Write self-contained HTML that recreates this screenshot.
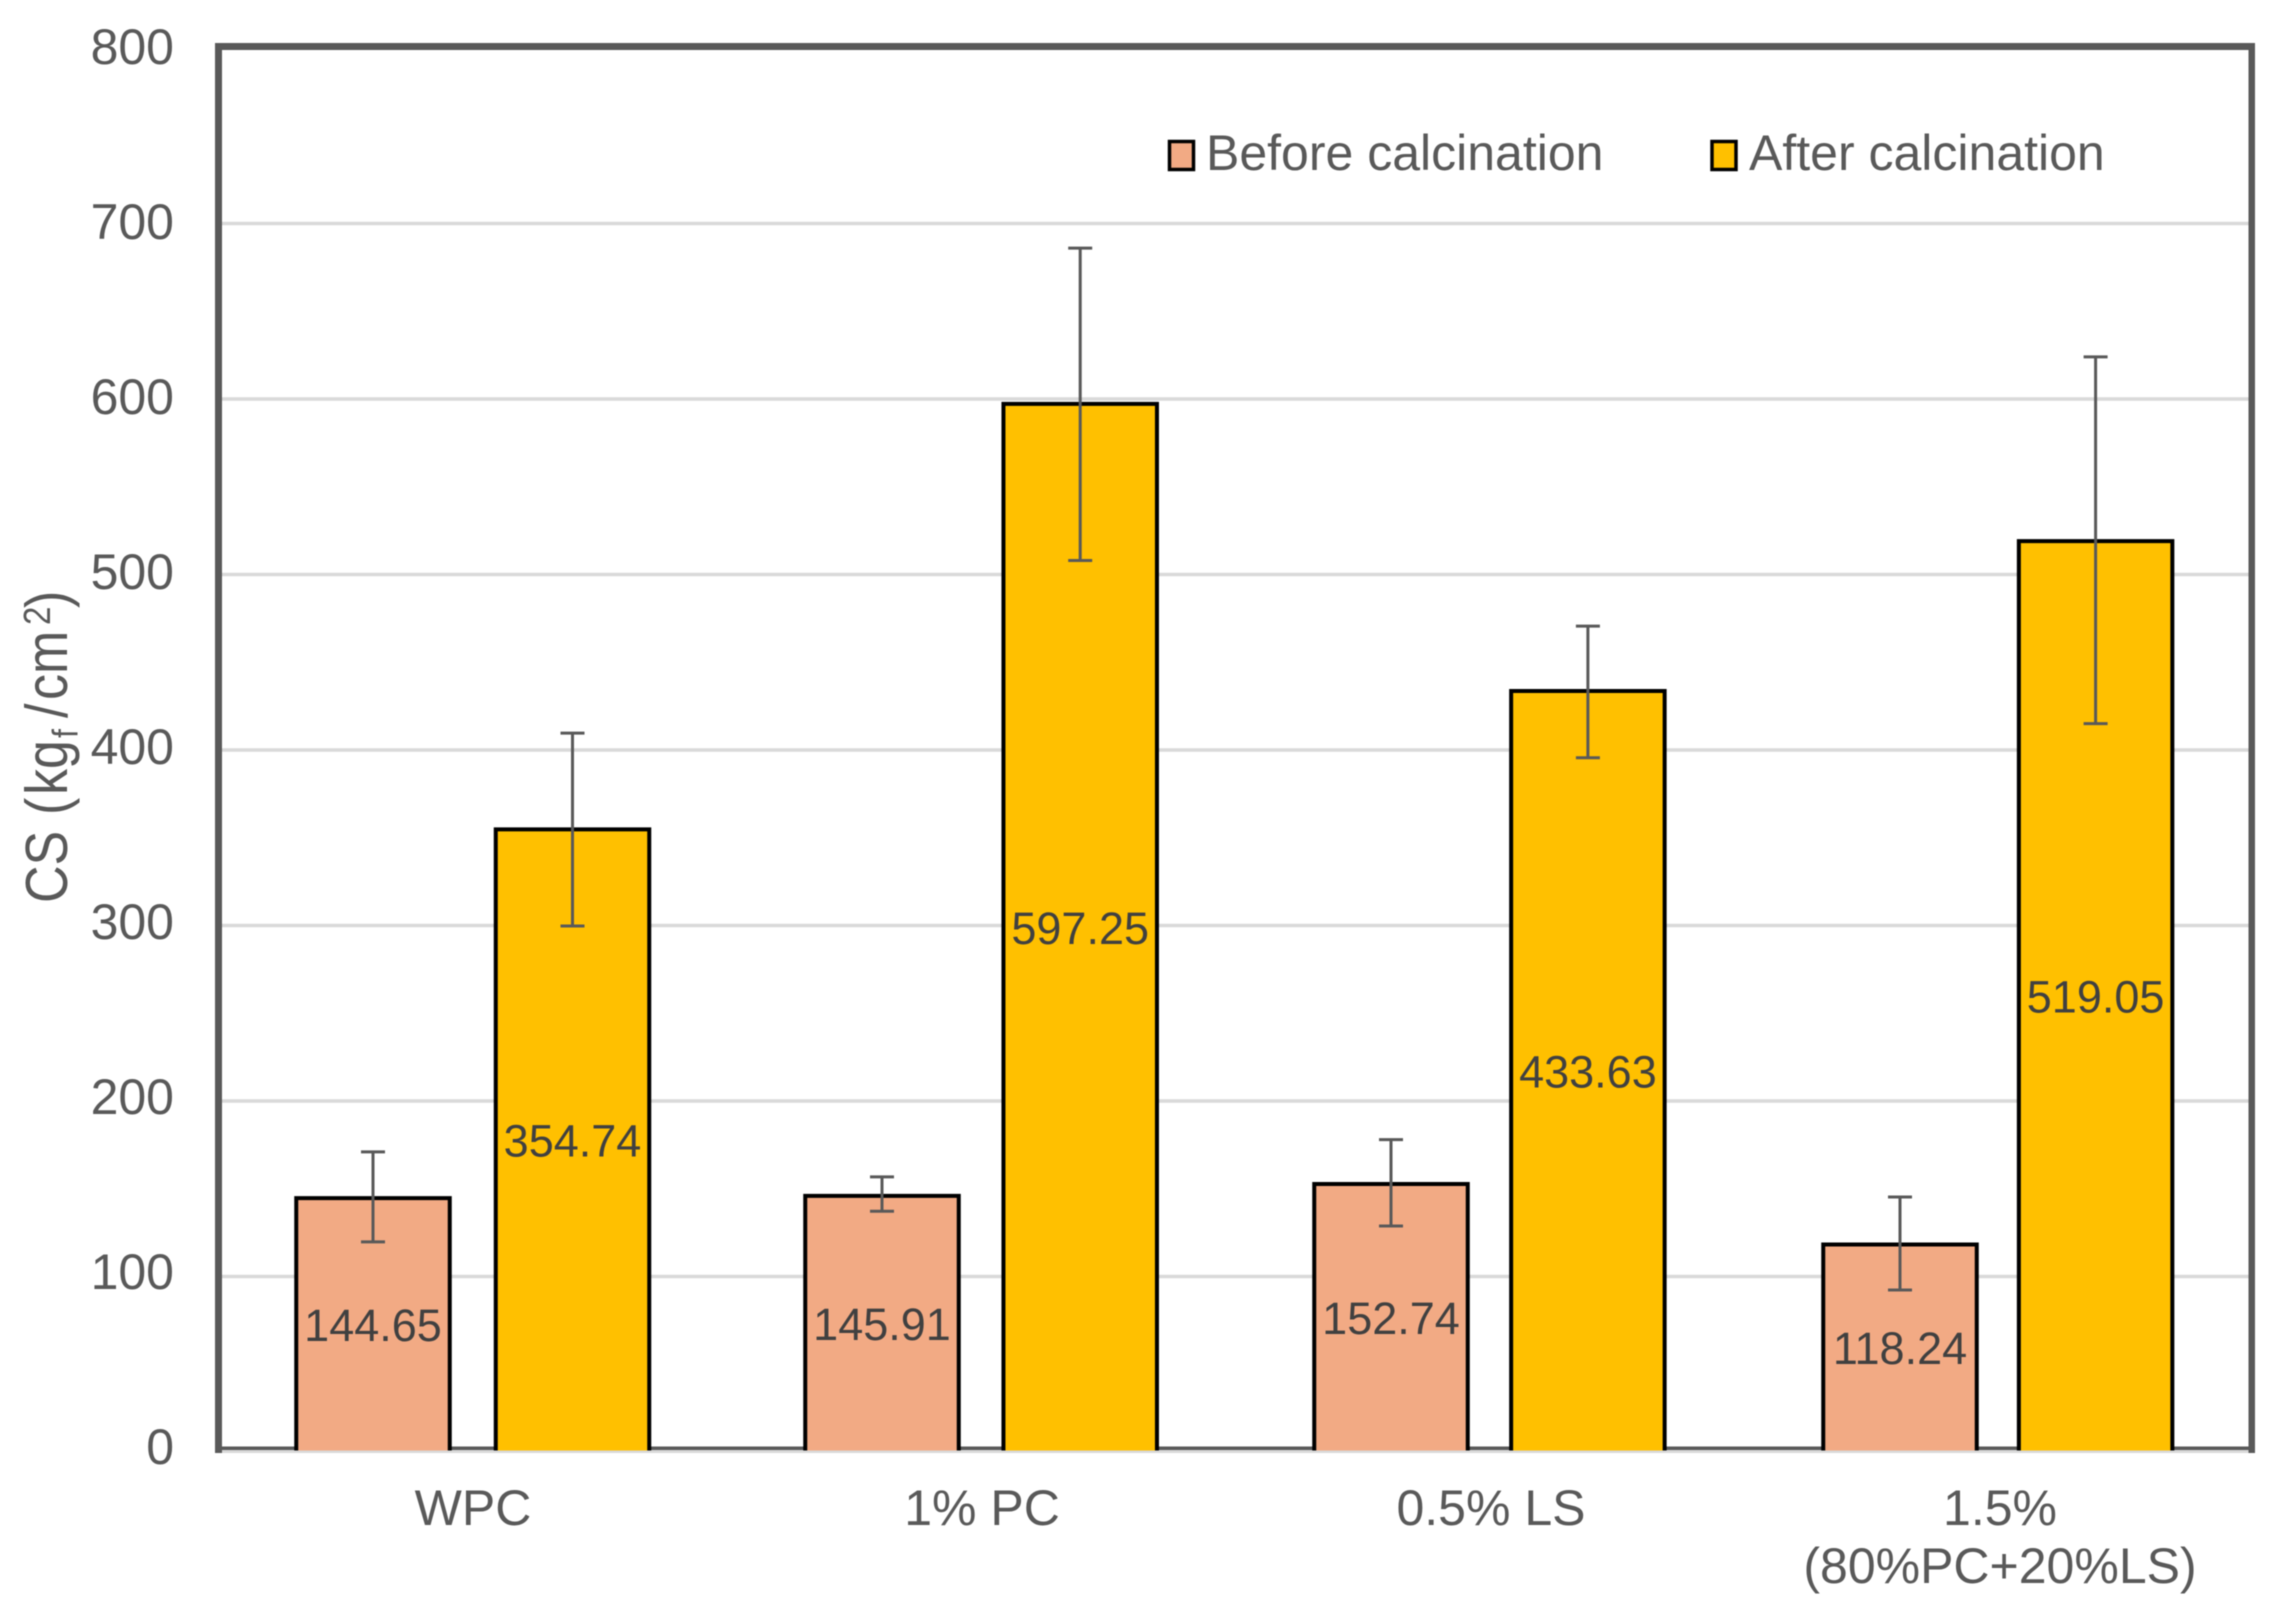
<!DOCTYPE html>
<html lang="en">
<head>
<meta charset="utf-8">
<title>Compressive strength before and after calcination</title>
<style>
  html, body { margin: 0; padding: 0; background: #fff; }
  svg { display: block; filter: blur(0.6px); }
  text { font-family: "Liberation Sans", Arial, sans-serif; }
</style>
</head>
<body>
<svg id="chart" xmlns="http://www.w3.org/2000/svg" width="2272" height="1607" viewBox="0 0 2272 1607">
  <rect x="0" y="0" width="2272" height="1607" fill="#ffffff"/>
  <g id="grid"></g>
  <rect x="215" y="1449.5" width="2040" height="3.5" fill="#d9d9d9"/>
  <g fill="#595959">
    <rect x="215" y="43" width="2040" height="7"/>
    <rect x="215" y="43" width="7" height="1410"/>
    <rect x="2248.5" y="43" width="6.5" height="1410"/>
    <rect x="215" y="1446.5" width="2040" height="3.5"/>
  </g>
  <g id="yticks" font-size="50" fill="#595959" text-anchor="end"></g>
  <text transform="translate(67,903) rotate(-90) scale(1,1.14)" font-size="52" fill="#595959" xml:space="preserve"><tspan x="0">CS</tspan><tspan x="88">(</tspan><tspan x="108">kg</tspan><tspan x="165" font-size="32" dy="9">f</tspan><tspan x="185" dy="-9">/</tspan><tspan x="203">cm</tspan><tspan x="278" font-size="33" dy="-15">2</tspan><tspan x="295" dy="15">)</tspan></text>
  <g id="bars"></g>
  <g id="errors"></g>
  <g id="values" font-size="45" fill="#404040" text-anchor="middle"></g>
  <g id="xticks" font-size="50" fill="#595959" text-anchor="middle"></g>
  <g>
    <g>
      <rect x="1169.5" y="141.5" width="24" height="28" fill="#f2aa84" stroke="#000" stroke-width="3.5"/>
      <text x="1206" y="170" font-size="50" fill="#595959">Before calcination</text>
    </g>
    <g>
      <rect x="1712" y="141.5" width="24" height="28" fill="#ffc000" stroke="#000" stroke-width="3.5"/>
      <text x="1749" y="170" font-size="50" fill="#595959">After calcination</text>
    </g>
  </g>
</svg>
<script>
const categories = [["WPC"], ["1% PC"], ["0.5% LS"], ["1.5%", "(80%PC+20%LS)"]];
const beforeValues = [144.65, 145.91, 152.74, 118.24];
const afterValues = [354.74, 597.25, 433.63, 519.05];
const beforeErrorHigh = [171, 156.8, 178, 145.3];
const beforeErrorLow = [119.7, 137.2, 128.8, 92.3];
const afterErrorHigh = [409.6, 686, 470.6, 624];
const afterErrorLow = [299.7, 508, 395.6, 415];
const yTickValues = [0, 100, 200, 300, 400, 500, 600, 700, 800];

const SVG_NS = "http://www.w3.org/2000/svg";
const yScale = v => 1452 - v * 1.755;
const yTickBaseline = v => 1464 - v * 1.75;
const xCategory = i => 473 + 509 * i;
const xBefore = i => 373 + 509 * i;
const xAfter = i => 572.5 + 507.7 * i;
const BAR_WIDTH = 153.5;
const CAP_WIDTH = 24;
const BAR_BOTTOM = 1450.5;

function make(tag, parentId) {
  const el = document.createElementNS(SVG_NS, tag);
  document.getElementById(parentId).appendChild(el);
  return el;
}

yTickValues.forEach(v => {
  if (v > 0 && v < 800) {
    const line = make("rect", "grid");
    
    
    line.setAttribute("x", 222);
    line.setAttribute("y", yScale(v) - 1.75);
    line.setAttribute("width", 2027);
    line.setAttribute("height", 3.5);
    line.setAttribute("fill", "#d9d9d9");
  }
  const label = make("text", "yticks");
  
  
  label.setAttribute("x", 174);
  label.setAttribute("y", yTickBaseline(v));
  label.textContent = String(v);
});

function drawSeries(values, errHigh, errLow, xFn, color, key) {
  values.forEach((v, i) => {
    const cx = xFn(i);
    const left = cx - BAR_WIDTH / 2;
    const right = cx + BAR_WIDTH / 2;
    const top = yScale(v);

    const fill = make("rect", "bars");
    
    
    fill.setAttribute("x", left);
    fill.setAttribute("y", top);
    fill.setAttribute("width", BAR_WIDTH);
    fill.setAttribute("height", BAR_BOTTOM - top);
    fill.setAttribute("fill", color);

    const outline = make("path", "bars");
    
    
    outline.setAttribute("d", "M" + left + " " + BAR_BOTTOM + "V" + top + "H" + right + "V" + BAR_BOTTOM);
    outline.setAttribute("fill", "none");
    outline.setAttribute("stroke", "#000");
    outline.setAttribute("stroke-width", 4);

    const hi = yScale(errHigh[i]);
    const lo = yScale(errLow[i]);
    const err = make("path", "errors");
    
    
    err.setAttribute("d", "M" + cx + " " + hi + "V" + lo +
      "M" + (cx - CAP_WIDTH / 2) + " " + hi + "H" + (cx + CAP_WIDTH / 2) +
      "M" + (cx - CAP_WIDTH / 2) + " " + lo + "H" + (cx + CAP_WIDTH / 2));
    err.setAttribute("fill", "none");
    err.setAttribute("stroke", "#595959");
    err.setAttribute("stroke-width", 3);

    const label = make("text", "values");
    
    
    label.setAttribute("x", cx);
    label.setAttribute("y", (top + 1452) / 2 + 16);
    label.textContent = v.toFixed(2);
  });
}

drawSeries(beforeValues, beforeErrorHigh, beforeErrorLow, xBefore, "#f2aa84", "before");
drawSeries(afterValues, afterErrorHigh, afterErrorLow, xAfter, "#ffc000", "after");

categories.forEach((lines, i) => {
  lines.forEach((line, j) => {
    const label = make("text", "xticks");
    
    
    label.setAttribute("x", xCategory(i));
    label.setAttribute("y", 1525 + j * 58);
    label.textContent = line;
  });
});
</script>
</body>
</html>
